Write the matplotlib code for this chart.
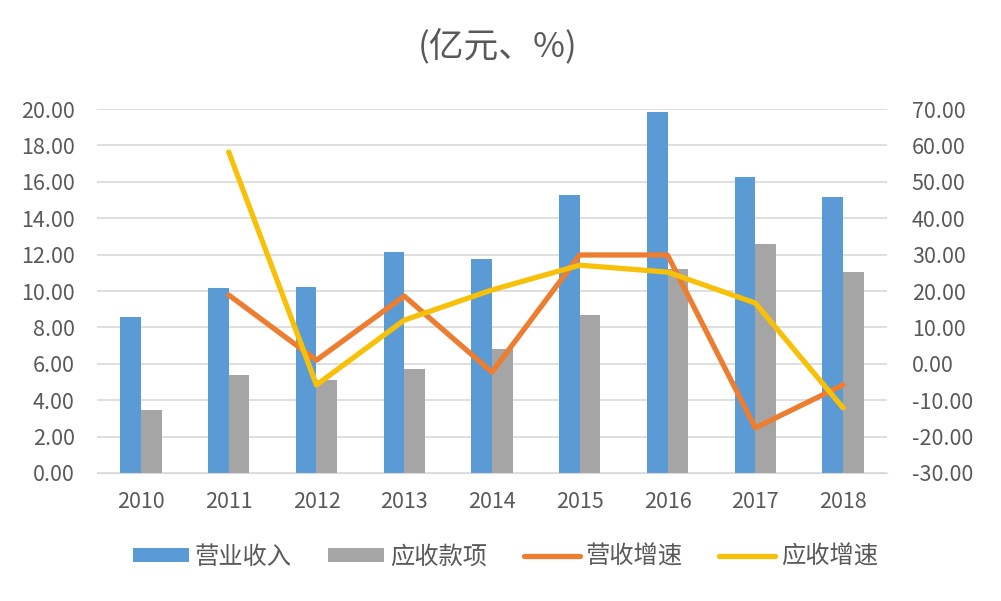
import matplotlib
matplotlib.use('Agg')
import matplotlib.pyplot as plt
import numpy as np

plt.rcParams['font.family'] = ['Noto Sans CJK SC', 'DejaVu Sans']

# data
years = ['2010', '2011', '2012', '2013', '2014', '2015', '2016', '2017', '2018']
revenue = [8.58, 10.15, 10.22, 12.14, 11.76, 15.27, 19.82, 16.26, 15.16]
receivables = [3.46, 5.36, 5.10, 5.70, 6.80, 8.68, 11.20, 12.60, 11.04]
rev_growth = [None, 18.9, 1.0, 18.6, -2.3, 29.9, 29.9, -17.6, -5.8]
recv_growth = [None, 58.2, -5.8, 12.0, 20.3, 27.1, 25.2, 16.7, -12.1]

blue = '#5b9bd5'
gray = '#a5a5a5'
orange = '#ed7d31'
yellow = '#f7c10a'
txt = '#595959'

fig = plt.figure(figsize=(10.01, 6.01), dpi=100)
ax = fig.add_axes([0.097, 0.213, 0.789, 0.6056])
ax2 = ax.twinx()

x = np.arange(len(years))
w = 0.235
ax.bar(x - w / 2, revenue, w, color=blue, label='营业收入', zorder=2)
ax.bar(x + w / 2, receivables, w, color=gray, label='应收款项', zorder=2)

xs = x[1:]
ax2.plot(xs, rev_growth[1:], color=orange, lw=3.8, label='营收增速',
         solid_capstyle='round', solid_joinstyle='round', zorder=3)
ax2.plot(xs, recv_growth[1:], color=yellow, lw=3.8, label='应收增速',
         solid_capstyle='round', solid_joinstyle='round', zorder=4)

ax.set_xlim(-0.5, len(years) - 0.5)
ax.set_ylim(0, 20)
ax.set_yticks(np.arange(0, 21, 2))
ax.set_yticklabels([f'{v:.2f}' for v in np.arange(0, 21, 2)])
ax2.set_ylim(-30, 70)
ax2.set_yticks(np.arange(-30, 71, 10))
ax2.set_yticklabels([f'{v:.2f}' for v in np.arange(-30, 71, 10)])
ax.set_xticks(x)
ax.set_xticklabels(years)

ax.grid(axis='y', color='#d9d9d9', lw=1.2, zorder=0)
ax.set_axisbelow(True)
for a in (ax, ax2):
    for s in a.spines.values():
        s.set_visible(False)
    a.tick_params(length=0, colors=txt, labelsize=15.5)
ax.spines['bottom'].set_visible(True)
ax.spines['bottom'].set_color('#d9d9d9')
ax.tick_params(axis='y', pad=16)
ax.tick_params(axis='x', pad=13)
ax2.tick_params(axis='y', pad=18)

fig.text(0.497, 0.922, '(亿元、%)', ha='center', va='center', fontsize=25, color=txt)

h1, l1 = ax.get_legend_handles_labels()
h2, l2 = ax2.get_legend_handles_labels()
fig.legend(h1 + h2, l1 + l2, loc='center', bbox_to_anchor=(0.505, 0.074), ncol=4,
           frameon=False, fontsize=17.5, labelcolor=txt, handlelength=2.3,
           handleheight=0.5, columnspacing=1.5, handletextpad=0.25)

fig.savefig('out.png', dpi=100)
